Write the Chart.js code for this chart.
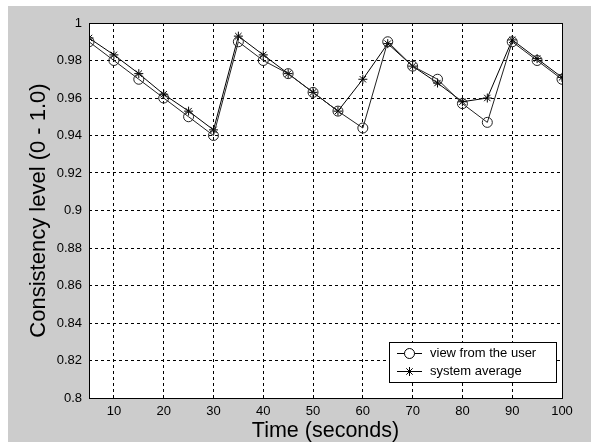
<!DOCTYPE html>
<html>
<head>
<meta charset="utf-8">
<script src="https://cdn.jsdelivr.net/npm/chart.js@4.4.1/dist/chart.umd.min.js"></script>
<style>
    html, body { margin: 0; padding: 0; background: #fff; }
    #wrap { position: relative; width: 591px; height: 442px; }
</style>
</head>
<body>
<div id="wrap"><canvas id="chart" width="591" height="442"></canvas></div>
<script>
// --- Data ---
const timeSeconds = [5, 10, 15, 20, 25, 30, 35, 40, 45, 50, 55, 60, 65, 70, 75, 80, 85, 90, 95, 100];
const userView = [0.990, 0.980, 0.970, 0.960, 0.950, 0.940, 0.990, 0.980, 0.973, 0.963, 0.953, 0.944,
                  0.990, 0.977, 0.970, 0.957, 0.947, 0.990, 0.980, 0.970];
const systemAverage = [0.992, 0.983, 0.973, 0.962, 0.953, 0.943, 0.993, 0.983, 0.973, 0.963, 0.953, 0.970,
                       0.989, 0.977, 0.968, 0.958, 0.960, 0.991, 0.981, 0.971];
const seriesLabels = ['view from the user', 'system average'];

const xTicks = [10, 20, 30, 40, 50, 60, 70, 80, 90, 100];
const yTicks = [0.8, 0.82, 0.84, 0.86, 0.88, 0.9, 0.92, 0.94, 0.96, 0.98, 1];
const yTickLabels = ['0.8', '0.82', '0.84', '0.86', '0.88', '0.9', '0.92', '0.94', '0.96', '0.98', '1'];

const xTitle = 'Time (seconds)';
const yTitle = 'Consistency level (0 - 1.0)';

const FONT = '"Liberation Sans", Arial, sans-serif';

// MATLAB-like frame: grey figure, white axes, full box, titles, legend inside
const framePlugin = {
    id: 'frame',
    beforeDraw(chart) {
        const { ctx, chartArea: a } = chart;
        ctx.save();
        ctx.fillStyle = '#fff';
        ctx.fillRect(0, 0, chart.width, chart.height);
        ctx.fillStyle = '#cccccc';
        ctx.fillRect(8, 6, chart.width - 8, chart.height - 6);
        ctx.fillStyle = '#fff';
        ctx.fillRect(a.left, a.top, a.right - a.left, a.bottom - a.top);
        ctx.restore();
    },
    afterDraw(chart) {
        const { ctx, chartArea: a } = chart;
        ctx.save();

        // axes box
        ctx.strokeStyle = '#000';
        ctx.lineWidth = 1;
        ctx.setLineDash([]);
        ctx.strokeRect(Math.round(a.left) + 0.5, Math.round(a.top) + 0.5,
                       Math.round(a.right - a.left), Math.round(a.bottom - a.top));

        // axis titles
        ctx.fillStyle = '#000';
        ctx.font = '21.5px ' + FONT;
        ctx.textAlign = 'center';
        ctx.textBaseline = 'alphabetic';
        ctx.fillText(xTitle, (a.left + a.right) / 2, 437);

        ctx.save();
        ctx.translate(45, (a.top + a.bottom) / 2);
        ctx.rotate(-Math.PI / 2);
        ctx.font = '22px ' + FONT;
        ctx.fillText(yTitle, 0, 0);
        ctx.restore();

        // legend box
        const lx = 389, ly = 342, lw = 167, lh = 40;
        ctx.fillStyle = '#fff';
        ctx.fillRect(lx, ly, lw, lh);
        ctx.strokeStyle = '#000';
        ctx.strokeRect(lx + 0.5, ly + 0.5, lw, lh);

        ctx.font = '13px ' + FONT;
        ctx.textAlign = 'left';
        ctx.textBaseline = 'middle';
        chart.data.datasets.forEach((ds, i) => {
            const y = ly + 11.5 + i * 18;
            ctx.strokeStyle = '#000';
            ctx.lineWidth = 1;
            ctx.beginPath();
            ctx.moveTo(lx + 8, y);
            ctx.lineTo(lx + 33, y);
            ctx.stroke();
            Chart.helpers.drawPoint(ctx, {
                pointStyle: ds.pointStyle,
                radius: ds.pointRadius,
                borderWidth: 1,
                rotation: 0
            }, lx + 20.5, y);
            ctx.fillStyle = '#000';
            ctx.fillText(ds.label, lx + 41, y);
        });

        ctx.restore();
    }
};

const ctx = document.getElementById('chart');
new Chart(ctx, {
    type: 'line',
    data: {
        labels: timeSeconds,
        datasets: [{
            label: seriesLabels[0],
            data: timeSeconds.map((t, i) => ({ x: t, y: userView[i] })),
            borderColor: '#222',
            borderWidth: 1,
            pointStyle: 'circle',
            pointRadius: 5,
            pointBorderColor: '#222',
            pointBackgroundColor: 'rgba(0,0,0,0)',
            pointBorderWidth: 1,
            tension: 0
        }, {
            label: seriesLabels[1],
            data: timeSeconds.map((t, i) => ({ x: t, y: systemAverage[i] })),
            borderColor: '#000',
            borderWidth: 1,
            pointStyle: 'star',
            pointRadius: 4.5,
            pointBorderColor: '#000',
            pointBackgroundColor: '#000',
            pointBorderWidth: 1,
            tension: 0
        }]
    },
    options: {
        responsive: false,
        animation: false,
        devicePixelRatio: 1,
        layout: { padding: { left: 0, top: 23, right: 29, bottom: 0 } },
        plugins: {
            legend: { display: false },
            tooltip: { enabled: false }
        },
        scales: {
            x: {
                type: 'linear',
                min: 5,
                max: 100,
                afterBuildTicks: s => { s.ticks = xTicks.map(v => ({ value: v })); },
                afterFit: s => { s.height = 44; },
                grid: { color: '#000', lineWidth: 1, drawTicks: false },
                border: { display: false, dash: [3, 3] },
                ticks: {
                    color: '#000',
                    padding: 6,
                    maxRotation: 0,
                    font: { family: FONT, size: 13 }
                }
            },
            y: {
                type: 'linear',
                min: 0.8,
                max: 1,
                afterBuildTicks: s => { s.ticks = yTicks.map(v => ({ value: v })); },
                afterFit: s => { s.width = 89; },
                grid: { color: '#000', lineWidth: 1, drawTicks: false },
                border: { display: false, dash: [3, 3] },
                ticks: {
                    color: '#000',
                    padding: 7,
                    font: { family: FONT, size: 13 },
                    callback: (v, i) => yTickLabels[i]
                }
            }
        }
    },
    plugins: [framePlugin]
});
</script>
</body>
</html>
